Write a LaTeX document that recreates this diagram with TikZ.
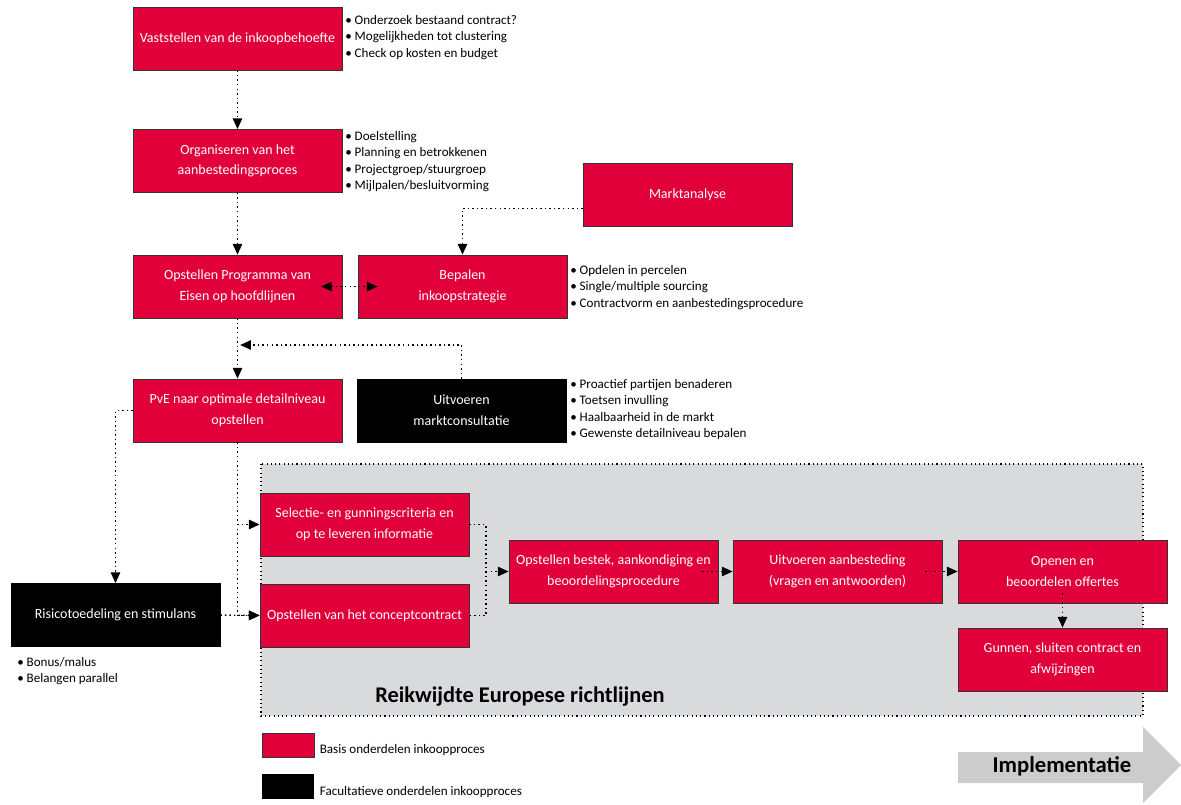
\documentclass[tikz,border=0pt]{standalone}
\usepackage{fontspec}
\setmainfont{Carlito}
\usepackage{xcolor}
\usetikzlibrary{arrows.meta, positioning}
\definecolor{basisrood}{RGB}{226,0,58}
\definecolor{regiogrijs}{RGB}{217,218,220}
\definecolor{pijlgrijs}{RGB}{204,204,204}

\tikzset{
  basis/.style={draw=black!80, line width=0.6pt, fill=basisrood, text=white, align=center,
    minimum width=156.75pt, minimum height=47.25pt, inner sep=1pt,
    font=\fontsize{10.5}{15.5}\selectfont},
  facultatief/.style={basis, draw=black, fill=black},
  lijn/.style={line width=1.1pt, dash pattern=on 1.1pt off 2.3pt},
  pijl/.style={lijn, -{Triangle[length=8pt, width=7pt]}},
  bullets/.style={anchor=north west, align=left, inner sep=0pt,
    font=\fontsize{9.8}{12.4}\selectfont}
}

\begin{document}
\begin{tikzpicture}[x=0.75pt, y=-0.75pt]
    \useasboundingbox (0,0) rectangle (1181,805);

    % Reikwijdte Europese richtlijnen
    \fill[regiogrijs] (261,464) rectangle (1143,716);
    \draw[line width=0.8pt, dash pattern=on 0.8pt off 2.4pt] (261,464) rectangle (1143,716);
    \node[font=\bfseries\fontsize{16.8}{18}\selectfont] (regio) at (520,697) {Reikwijdte Europese richtlijnen};

    % processtappen
    \node[basis] (behoefte) at (237.5,38.5) {Vaststellen van de inkoopbehoefte};
    \node[basis] (organiseren) at (237.5,161) {Organiseren van het\\aanbestedingsproces};
    \node[basis] (marktanalyse) at (687.5,194.5) {Marktanalyse};
    \node[basis] (pve) at (237.5,286.5) {Opstellen Programma van\\Eisen op hoofdlijnen};
    \node[basis] (strategie) at (462.5,286.5) {Bepalen\\inkoopstrategie};
    \node[basis] (detail) at (237.5,410.5) {PvE naar optimale detailniveau\\opstellen};
    \node[facultatief] (consultatie) at (461.5,410.5) {Uitvoeren\\marktconsultatie};
    \node[basis] (criteria) at (364.5,524.5) {Selectie- en gunningscriteria en\\op te leveren informatie};
    \node[basis] (concept) at (364.5,615.5) {Opstellen van het conceptcontract};
    \node[facultatief] (risico) at (115.5,615) {Risicotoedeling en stimulans};
    \node[basis] (bestek) at (613.5,571.5) {Opstellen bestek, aankondiging en\\beoordelingsprocedure};
    \node[basis] (aanbesteding) at (837.5,571.5) {Uitvoeren aanbesteding\\(vragen en antwoorden)};
    \node[basis] (offertes) at (1062.5,571.5) {Openen en\\beoordelen offertes};
    \node[basis] (gunnen) at (1062.5,659.5) {Gunnen, sluiten contract en\\afwijzingen};

    % verbindingen
    \coordinate (samen) at (237.5,345);
    \coordinate (knoop) at (486,571.5);
    \draw[pijl] (behoefte) -- (organiseren);
    \draw[pijl] (organiseren) -- (pve);
    \draw[pijl] ([yshift=-10.5pt]marktanalyse.west) -| (strategie.north);
    \draw[lijn, {Triangle[length=8pt, width=7pt]}-{Triangle[length=8pt, width=7pt]},
          shorten <=-16pt, shorten >=-15pt] (pve) -- (strategie);
    \draw[pijl] (pve) -- (detail);
    \draw[pijl] (consultatie.north) |- ([xshift=2pt]samen);
    \draw[pijl] (detail.west) -| (risico.north);
    \draw[pijl] (detail.south) |- (criteria.west);
    \draw[pijl] (detail.south) |- (concept.west);
    \draw[pijl] (risico) -- (concept);
    \draw[lijn] (criteria.east) -| (knoop) |- (concept.east);
    \draw[pijl] (knoop) -- (bestek.west);
    \draw[pijl, shorten <=-12pt] (bestek) -- (aanbesteding);
    \draw[pijl, shorten <=-13pt] (aanbesteding) -- (offertes);
    \draw[pijl, shorten <=-7.5pt] (offertes) -- (gunnen);

    % toelichtingen
    \node[bullets] (b-behoefte) at (345,15) {\textbullet\ Onderzoek bestaand contract?\\\textbullet\ Mogelijkheden tot clustering\\\textbullet\ Check op kosten en budget};
    \node[bullets] (b-organiseren) at (345,131) {\textbullet\ Doelstelling\\\textbullet\ Planning en betrokkenen\\\textbullet\ Projectgroep/stuurgroep\\\textbullet\ Mijlpalen/besluitvorming};
    \node[bullets] (b-strategie) at (570,265) {\textbullet\ Opdelen in percelen\\\textbullet\ Single/multiple sourcing\\\textbullet\ Contractvorm en aanbestedingsprocedure};
    \node[bullets] (b-consultatie) at (570,379) {\textbullet\ Proactief partijen benaderen\\\textbullet\ Toetsen invulling\\\textbullet\ Haalbaarheid in de markt\\\textbullet\ Gewenste detailniveau bepalen};
    \node[bullets] (b-risico) at (17,657) {\textbullet\ Bonus/malus\\\textbullet\ Belangen parallel};

    % legenda
    \node[draw=black!80, fill=basisrood, minimum width=39pt, minimum height=18pt, inner sep=0pt] (leg-basis) at (288,745) {};
    \node[fill=black, minimum width=39pt, minimum height=18.75pt, inner sep=0pt] (leg-fac) at (288,786.5) {};
    \node[anchor=south west, inner sep=1pt, xshift=3pt, font=\fontsize{9.8}{11}\selectfont] (leg-basis-txt) at (leg-basis.south east) {Basis onderdelen inkoopproces};
    \node[anchor=south west, inner sep=1pt, xshift=3pt, font=\fontsize{9.8}{11}\selectfont] (leg-fac-txt) at (leg-fac.south east) {Facultatieve onderdelen inkoopproces};

    % implementatie
    \fill[pijlgrijs] (958,752) -- (1143,752) -- (1143,727) -- (1181,765) -- (1143,803) -- (1143,783) -- (958,783) -- cycle;
    \node[font=\bfseries\fontsize{17}{19}\selectfont] (implementatie) at (1062,766) {Implementatie};
\end{tikzpicture}
\end{document}
